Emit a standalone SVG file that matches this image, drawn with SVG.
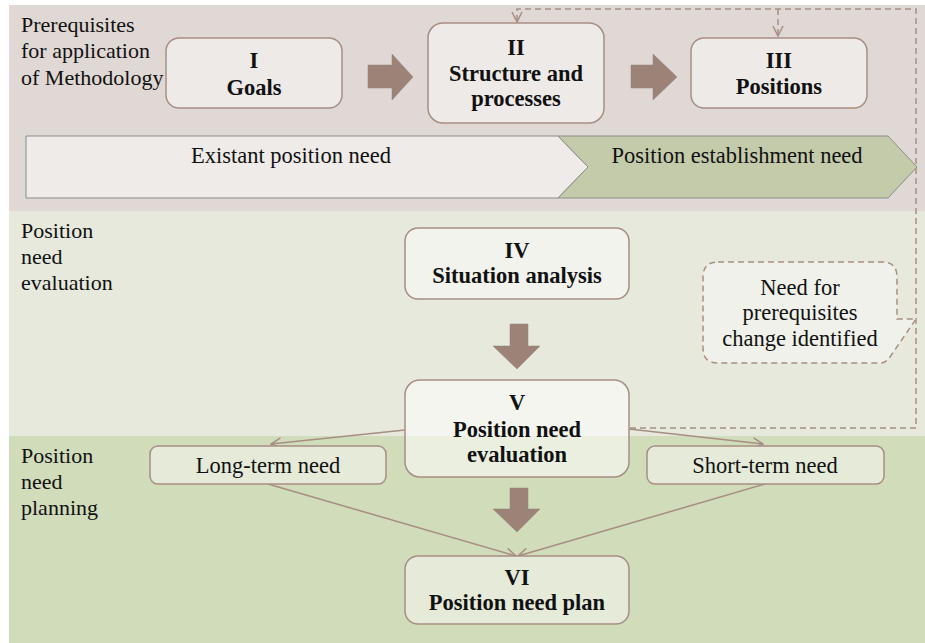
<svg xmlns="http://www.w3.org/2000/svg" width="925" height="643" viewBox="0 0 925 643">
<style>
text{font-family:"Liberation Serif","Times New Roman",serif;font-size:22.5px;fill:#111;}
.b{font-weight:bold;text-anchor:middle;}
.c{text-anchor:middle;}
.lbl{font-size:22px;}
.box1{fill:#eeeae8;stroke:#a68e83;stroke-width:1.5;}
.box2{fill:#f2f3ec;stroke:#a68e83;stroke-width:1.5;}
.box3{fill:#e5ead9;stroke:#a68e83;stroke-width:1.5;}
.blk{fill:#9d8377;stroke:#8f8580;stroke-width:0.5;}
.ln{fill:none;stroke:#a68e83;stroke-width:1.5;}
.dash{fill:none;stroke:#a68e83;stroke-width:1.5;stroke-dasharray:6 4;}
</style>
<defs>
<marker id="ah" viewBox="0 0 12 12" refX="11" refY="6" markerWidth="12" markerHeight="12" markerUnits="userSpaceOnUse" orient="auto">
<path d="M1,1 L11,6 L1,11" fill="none" stroke="#a68e83" stroke-width="1.5"/>
</marker>
</defs>
<rect x="0" y="0" width="925" height="643" fill="#ffffff"/>
<g id="bands">
<rect x="9" y="5" width="916" height="206" fill="#e0d8d4"/>
<rect x="9" y="211" width="916" height="225" fill="#e6e9dc"/>
<rect x="9" y="436" width="916" height="207" fill="#d1dcba"/>
</g>
<g id="labels">
<text class="lbl" x="21" y="32">Prerequisites</text>
<text class="lbl" x="21" y="58">for application</text>
<text class="lbl" x="21" y="85">of Methodology</text>
<text class="lbl" x="21" y="238">Position</text>
<text class="lbl" x="21" y="264">need</text>
<text class="lbl" x="21" y="290">evaluation</text>
<text class="lbl" x="21" y="463">Position</text>
<text class="lbl" x="21" y="489">need</text>
<text class="lbl" x="21" y="515">planning</text>
</g>
<g id="bar">
<polygon points="26,136 558,136 588,167 558,198 26,198" fill="#efebe9" stroke="#8c8c8c" stroke-width="1"/>
<polygon points="558,136 888,136 917,167 888,198 558,198 588,167" fill="#c4cbab" stroke="#8c8c8c" stroke-width="1"/>
<text class="c" x="291" y="163">Existant position need</text>
<text class="c" x="737" y="163">Position establishment need</text>
</g>
<g id="connectors">
<polygon class="blk" points="368,65 392,65 392,54 413,77 392,100 392,88 368,88"/>
<polygon class="blk" points="631,65 653,65 653,54 677,77 653,100 653,88 631,88"/>
<polygon class="blk" points="510,324 528,324 528,346 540,346 517,369 493,346 510,346"/>
<polygon class="blk" points="510,488 528,488 528,509 540,509 517,532 493,509 510,509"/>
<path class="dash" d="M630,428 H916 V9 H517 V22" marker-end="url(#ah)"/>
<path class="dash" d="M778,9 V36" marker-end="url(#ah)"/>
<path class="ln" d="M405,430 L271,444" marker-end="url(#ah)"/>
<path class="ln" d="M629,429 L763,444" marker-end="url(#ah)"/>
<path class="ln" d="M268,484 L516,556" marker-end="url(#ah)"/>
<path class="ln" d="M765,484 L518,556" marker-end="url(#ah)"/>
</g>
<g id="n1">
<rect class="box1" x="166" y="38" width="176" height="70" rx="13"/>
<text class="b" x="254" y="68">I</text>
<text class="b" x="254" y="95">Goals</text>
</g>
<g id="n2">
<rect class="box1" x="428" y="23" width="176" height="100" rx="15"/>
<text class="b" x="516" y="55">II</text>
<text class="b" x="516" y="81">Structure and</text>
<text class="b" x="516" y="106">processes</text>
</g>
<g id="n3">
<rect class="box1" x="691" y="38" width="176" height="70" rx="13"/>
<text class="b" x="779" y="68">III</text>
<text class="b" x="779" y="94">Positions</text>
</g>
<g id="callout">
<path d="M718,262 H882 Q897,262 897,277 V319 L916,319 L890,357 Q886,363 880,363 H718 Q703,363 703,348 V277 Q703,262 718,262 Z" fill="#f0f1ea" stroke="#a68e83" stroke-width="1.5" stroke-dasharray="6 4"/>
<text class="c" x="800" y="295">Need for</text>
<text class="c" x="800" y="320">prerequisites</text>
<text class="c" x="800" y="346">change identified</text>
</g>
<g id="n4">
<rect class="box2" x="405" y="228" width="224" height="71" rx="13"/>
<text class="b" x="517" y="258">IV</text>
<text class="b" x="517" y="283">Situation analysis</text>
</g>
<g id="n5">
<rect x="405" y="380" width="224" height="97" rx="15" fill="#ffffff" fill-opacity="0.55" stroke="#a68e83" stroke-width="1.5"/>
<text class="b" x="517" y="410">V</text>
<text class="b" x="517" y="437">Position need</text>
<text class="b" x="517" y="462">evaluation</text>
</g>
<g id="n6">
<rect class="box3" x="150" y="446" width="236" height="38" rx="8"/>
<text class="c" x="268" y="473">Long-term need</text>
</g>
<g id="n7">
<rect class="box3" x="647" y="446" width="237" height="38" rx="8"/>
<text class="c" x="765" y="473">Short-term need</text>
</g>
<g id="n8">
<rect class="box3" x="405" y="556" width="224" height="68" rx="13"/>
<text class="b" x="517" y="585">VI</text>
<text class="b" x="517" y="610">Position need plan</text>
</g>
</svg>
